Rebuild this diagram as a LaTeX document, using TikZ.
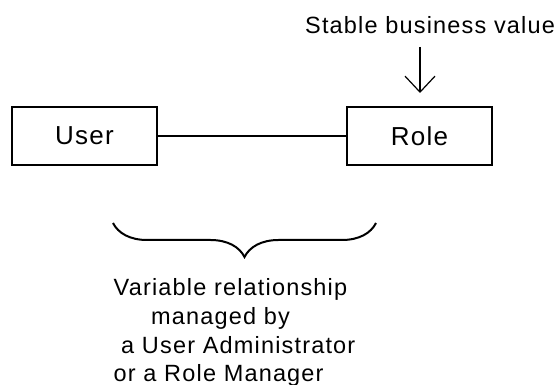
\documentclass[tikz,border=0pt]{standalone}
\usepackage{fontspec}
\setmainfont{Liberation Sans}
\newfontfamily\spacedfont[LetterSpace=5]{Liberation Sans}
\usetikzlibrary{arrows.meta,decorations.pathreplacing}
\begin{document}
\begin{tikzpicture}[x=1pt,y=-1pt,
  box/.style={draw,line width=2pt,minimum width=145pt,minimum height=58pt,inner sep=0pt,font=\spacedfont\fontsize{26}{30}\selectfont},
  lbl/.style={inner sep=0pt,anchor=base west,font=\spacedfont\fontsize{23.5}{28}\selectfont},
  link/.style={line width=2pt},
  pointer/.style={line width=1.2pt,-{Straight Barb[length=16pt,width=30pt,line width=1.2pt]}},
  bracestyle/.style={line width=2pt,decorate,decoration={brace,mirror,amplitude=34pt}}]
\useasboundingbox (0,0) rectangle (555,385);
\node[box] (user) at (84.5,136) {User};
\node[box] (role) at (419.5,136) {Role};
\draw[link] (user) -- (role);
\node[lbl] (sbv) at (305,34) {Stable business value};
\coordinate (atop) at (420,47);
\coordinate (abot) at (420,93);
\draw[pointer] (atop) -- (abot);
\coordinate (bl) at (113,223);
\coordinate (br) at (376,223);
\draw[bracestyle] (bl) -- (br);
\node[lbl] (v1) at (113.5,295) {Variable relationship};
\node[lbl] (v2) at (151,324) {managed by};
\node[lbl] (v3) at (121,353) {a User Administrator};
\node[lbl] (v4) at (113.5,381) {or a Role Manager};
\end{tikzpicture}
\end{document}
